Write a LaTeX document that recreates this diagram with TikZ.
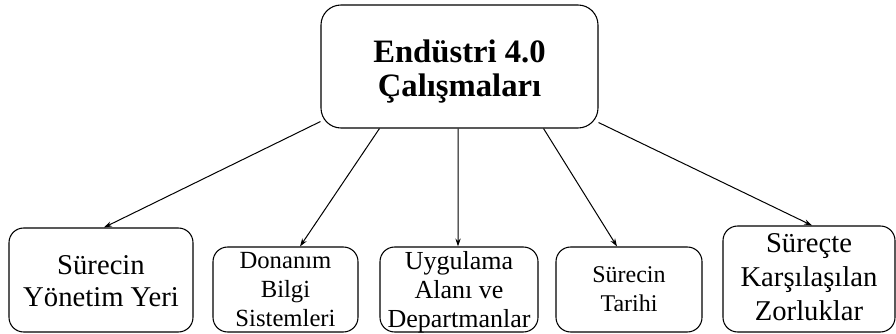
\documentclass[tikz,border=0pt]{standalone}
\usepackage{fontspec}
\setmainfont{Liberation Serif}
\usetikzlibrary{arrows.meta}

\tikzset{
	topbox/.style={draw, line width=0.8pt, rounded corners=15pt, align=center, inner sep=0pt,
		minimum width=207.75pt, text height=69pt, text depth=23.25pt,
		font=\bfseries\fontsize{24.5}{26}\selectfont},
	subbox/.style={draw, line width=0.8pt, rounded corners=11pt, align=center, inner sep=0pt},
	link/.style={-{Stealth[length=6pt,width=4pt]}, line width=0.75pt}
}

\begin{document}
\begin{tikzpicture}[x=0.75pt, y=-0.75pt]
	\useasboundingbox (0,0) rectangle (896,334);
		\node[topbox] (top) at (459.5,66.5) {Endüstri 4.0\\Çalışmaları};
		% alt kutular
		\node[subbox, minimum width=138pt, text height=59.25pt, text depth=18.75pt, font=\fontsize{21.5}{24}\selectfont] (yer) at (101,280) {Sürecin\\Yönetim Yeri};
		\node[subbox, minimum width=108.75pt, text height=60pt, text depth=3.75pt, font=\fontsize{18.5}{21.75}\selectfont] (donanim) at (285.5,289.5) {Donanım\\Bilgi\\Sistemleri};
		\node[subbox, minimum width=118.5pt, text height=60.75pt, text depth=3pt, font=\fontsize{19.5}{21.75}\selectfont] (alan) at (459,289.5) {Uygulama\\Alanı ve\\Departmanlar};
		\node[subbox, minimum width=109.5pt, text height=48.75pt, text depth=15pt, font=\fontsize{18}{21.75}\selectfont] (tarih) at (629,289.5) {Sürecin\\Tarihi};
		\node[subbox, minimum width=129pt, text height=71.25pt, text depth=8.25pt, font=\fontsize{21.5}{25.5}\selectfont] (zorluk) at (809,279) {Süreçte\\Karşılaşılan\\Zorluklar};
		% oklar
		\draw[link] ([yshift=5.25pt]top.south west) -- ([xshift=2.25pt]yer.north);
		\draw[link] ([xshift=44.25pt]top.south west) -- ([xshift=10.9pt]donanim.north);
		\draw[link] ([xshift=-1.1pt]top.south) -- ([xshift=-0.75pt]alan.north);
		\draw[link] ([xshift=-41.25pt]top.south east) -- ([xshift=-9pt]tarih.north);
		\draw[link] ([yshift=4.5pt]top.south east) -- ([xshift=2.25pt]zorluk.north);
	\end{tikzpicture}
\end{document}
